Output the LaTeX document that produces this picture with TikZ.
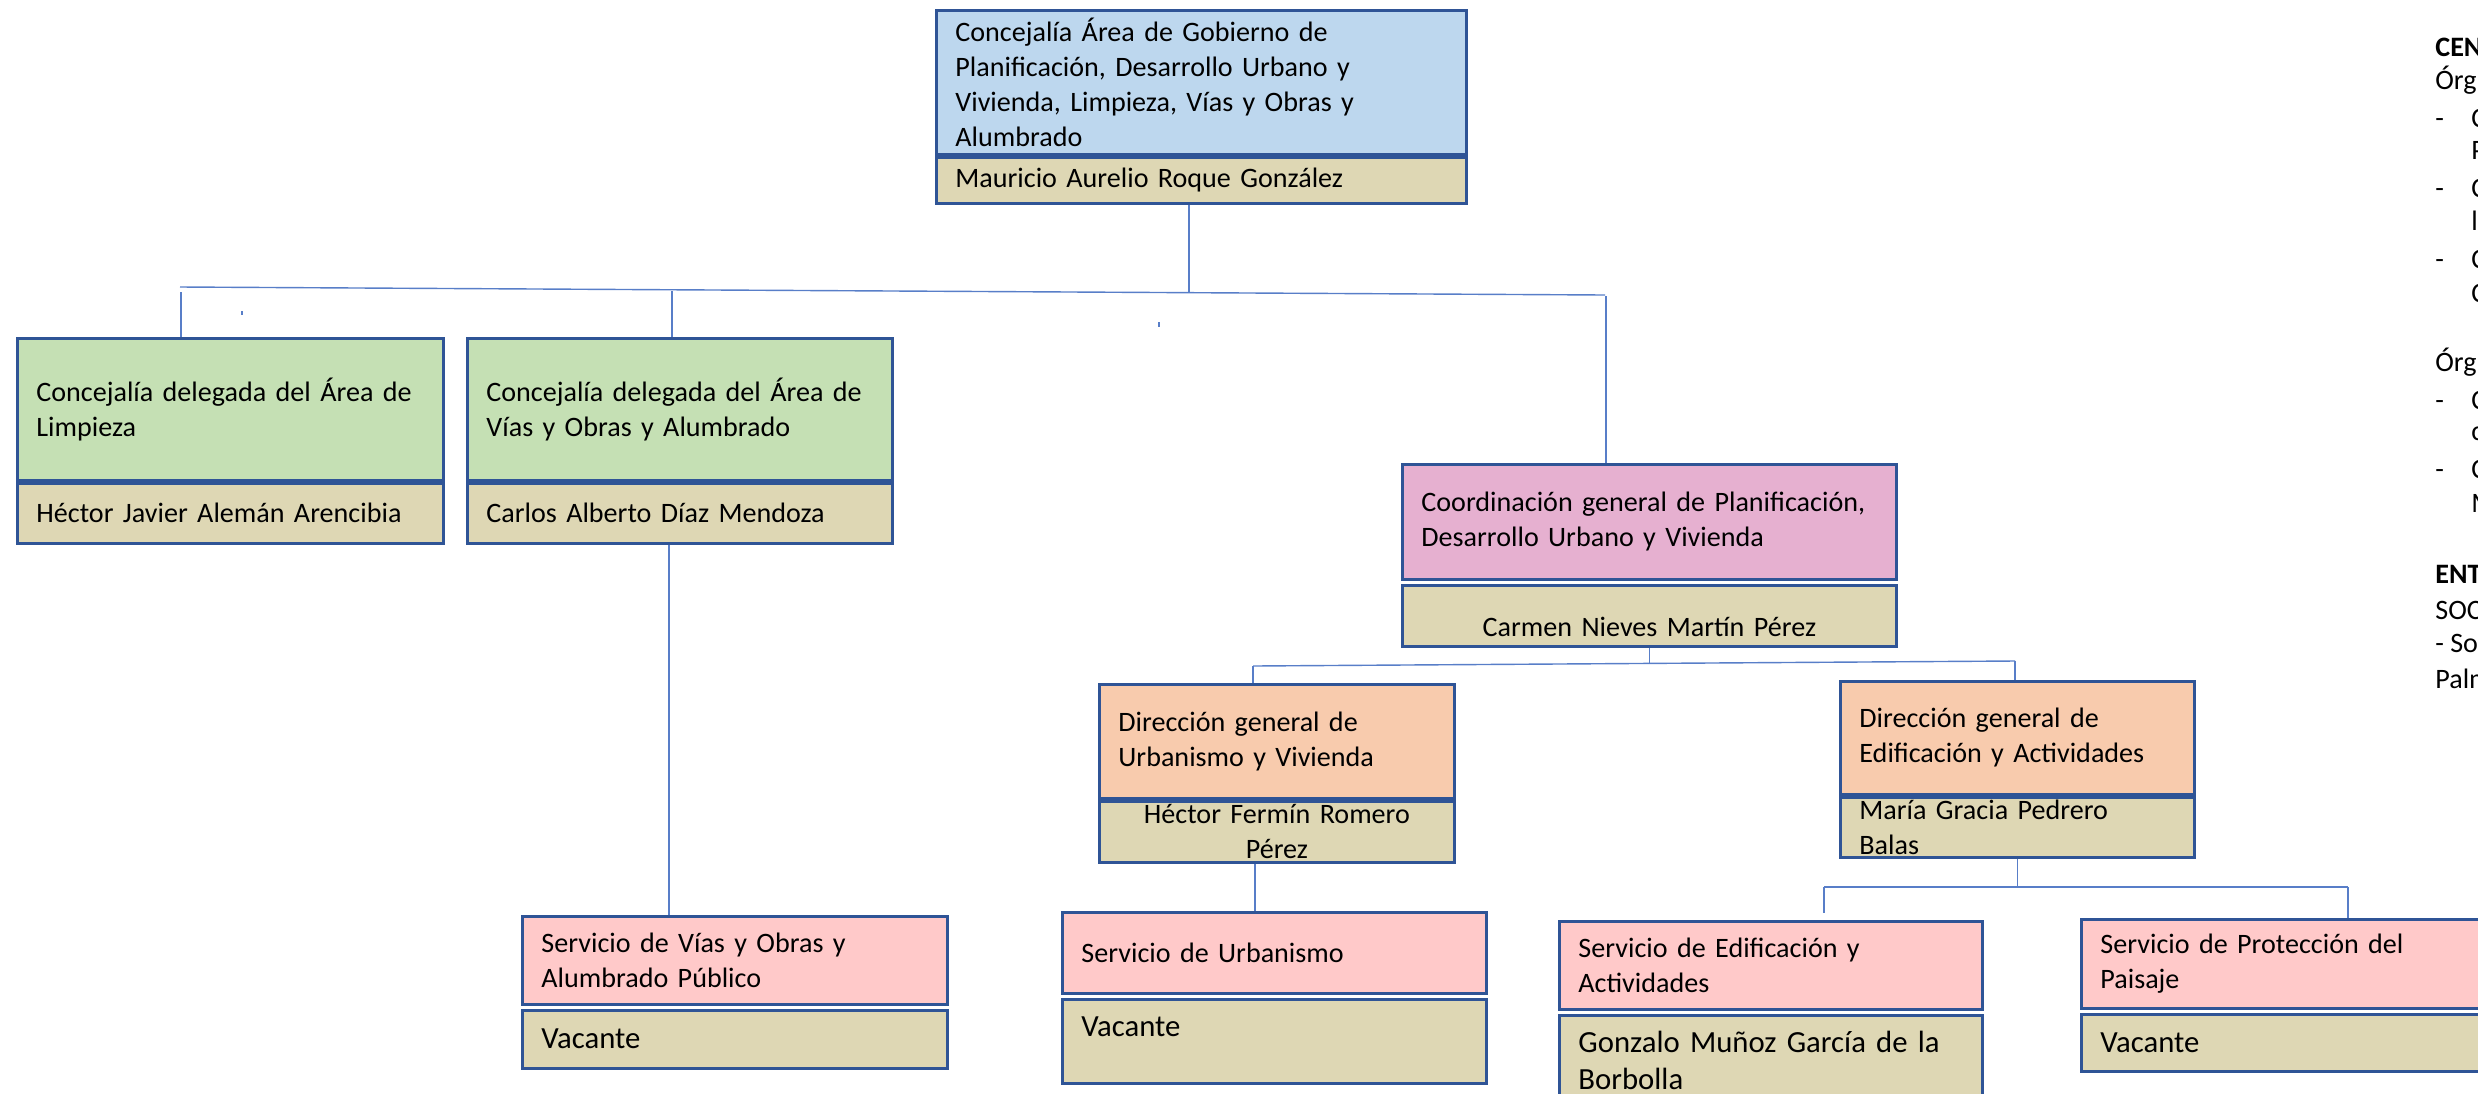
\documentclass[tikz,border=0pt]{standalone}
\usepackage{fontspec}
\setmainfont{Carlito}
\usepackage{tikz}
\usetikzlibrary{positioning}

\definecolor{boxblue}{RGB}{47,84,150}
\definecolor{linkblue}{RGB}{88,126,200}
\definecolor{topblue}{RGB}{189,215,238}
\definecolor{tanfill}{RGB}{222,215,180}
\definecolor{greenfill}{RGB}{197,224,180}
\definecolor{coordfill}{RGB}{230,176,208}
\definecolor{dirfill}{RGB}{248,203,173}
\definecolor{servfill}{RGB}{255,201,201}

\begin{document}
\begin{tikzpicture}[x=0.02cm, y=-0.02cm]
	% Define styles
	\tikzset{
		box/.style={draw=boxblue, line width=1.6pt, anchor=north west, inner xsep=0.38cm, inner ysep=0pt, align=left, font=\fontsize{16}{19.9}\selectfont},
		who/.style={box, fill=tanfill},
		big/.style={font=\fontsize{17.5}{21.5}\selectfont},
		side/.style={anchor=base west, inner sep=0pt, font=\fontsize{16}{19.9}\selectfont},
		line/.style={draw=linkblue, line width=0.8pt}
	}
	
	\useasboundingbox (0,0) rectangle (2478,1093);
	\clip (0,0) rectangle (2478,1093);
	
	% Nodes
	\node[box, fill=topblue, text width=9.84cm, minimum height=2.88cm] (gob) at (935,9) {Concejalía Área de Gobierno de\\Planificación, Desarrollo Urbano y\\Vivienda, Limpieza, Vías y Obras y\\Alumbrado};
	\node[who, below=0pt of gob, text width=9.84cm, minimum height=0.92cm] (gobn) {Mauricio Aurelio Roque González};
	
	\node[box, fill=greenfill, text width=7.76cm, minimum height=2.84cm] (limp) at (16,337) {Concejalía delegada del Área de\\Limpieza};
	\node[who, below=0pt of limp, text width=7.76cm, minimum height=1.2cm] (limpn) {Héctor Javier Alemán Arencibia};
	\node[box, fill=greenfill, text width=7.74cm, minimum height=2.84cm] (vias) at (466,337) {Concejalía delegada del Área de\\Vías y Obras y Alumbrado};
	\node[who, below=0pt of vias, text width=7.74cm, minimum height=1.2cm] (viasn) {Carlos Alberto Díaz Mendoza};
	
	\node[box, fill=coordfill, text width=9.12cm, minimum height=2.3cm] (coord) at (1401,463) {Coordinación general de Planificación,\\Desarrollo Urbano y Vivienda};
	\node[who, below=0.06cm of coord, text width=9.12cm, align=center, text height=1.02cm, text depth=0.2cm] (coordn) {Carmen Nieves Martín Pérez};
	
	\node[box, fill=dirfill, text width=6.34cm, minimum height=2.28cm] (dg1) at (1098,683) {Dirección general de\\Urbanismo y Vivienda};
	\node[who, below=0pt of dg1, text width=6.34cm, minimum height=1.22cm, align=center] (dg1n) {Héctor Fermín Romero\\Pérez};
	\node[box, fill=dirfill, text width=6.32cm, minimum height=2.26cm] (dg2) at (1839,680) {Dirección general de\\Edificación y Actividades};
	\node[who, below=0pt of dg2, text width=6.32cm, text height=0.44cm, text depth=0.76cm] (dg2n) {María Gracia Pedrero\\Balas};
	
	\node[box, fill=servfill, text width=7.74cm, minimum height=1.76cm] (s1) at (521,915) {Servicio de Vías y Obras y\\Alumbrado Público};
	\node[who, big, below=0.06cm of s1, text width=7.74cm, minimum height=1.16cm] (s1n) {Vacante};
	\node[box, fill=servfill, text width=7.72cm, minimum height=1.62cm] (s2) at (1061,911) {Servicio de Urbanismo};
	\node[who, big, below=0.06cm of s2, text width=7.72cm, text height=0.74cm, text depth=0.94cm] (s2n) {Vacante};
	\node[box, fill=servfill, text width=7.70cm, minimum height=1.76cm] (s3) at (1558,920) {Servicio de Edificación y\\Actividades};
	\node[who, big, below=0.06cm of s3, text width=7.70cm, text height=0.74cm, text depth=1.3cm] (s3n) {Gonzalo Muñoz García de la\\Borbolla};
	\node[box, fill=servfill, text width=8.04cm, minimum height=1.78cm] (s4) at (2080,918) {Servicio de Protección del\\Paisaje};
	\node[who, big, below=0.06cm of s4, text width=8.04cm, minimum height=1.14cm] (s4n) {Vacante};
	
	% Side notes (cut at the page edge)
	\foreach \xx/\yy/\tx [count=\i] in {2435/56/{\textbf{CEN}}, 2435/89/Órg, 2435/127/-, 2471/127/C, 2471/159/P, 2435/197/-, 2471/197/C, 2471/230/l, 2435/268/-, 2471/268/C, 2471/302/C, 2435/371/Órg, 2435/409/-, 2471/409/C, 2471/440/c, 2435/478/-, 2471/478/C, 2471/512/M, 2435/583/{\textbf{ENT}}, 2435/619/SOC, 2435/652/{- So}, 2435/688/Palm}
		\node[side] (side\i) at (\xx,\yy) {\tx};
	
	% Lines
	\coordinate (busL) at (180,287);
	\coordinate (busR) at (1605,295);
	\coordinate (busM) at (1189,292.7);
	\coordinate (dropL) at (181,292);
	\coordinate (dropV) at (672,291);
	\coordinate (dropC) at (1606,296);
	\path [line] (gobn.south -| busM) -- (busM);
	\path [line] (busL) -- (busR);
	\path [line] (dropL) -- (dropL |- limp.north);
	\path [line] (dropV) -- (dropV |- vias.north);
	\path [line] (dropC) -- (dropC |- coord.north);
	
	\coordinate (tickA) at (242,311);
	\coordinate (tickB) at (1159,322);
	\path [line] (tickA) -- ++(0,4);
	\path [line] (tickB) -- ++(0,5);
	
	\coordinate (downV) at (669,539);
	\path [line] (downV |- viasn.south) -- (downV |- s1.north);
	
	\coordinate (cM) at (1648,664);
	\coordinate (cL) at (1253,666);
	\coordinate (cR) at (2015,661);
	\path [line] (coordn.south) -- (coordn.south |- cM);
	\path [line] (cL) -- (cR);
	\path [line] (cL) -- (cL |- dg1.north);
	\path [line] (cR) -- (cR |- dg2.north);
	
	\coordinate (uA) at (1255,858);
	\path [line] (uA |- dg1n.south) -- (uA |- s2.north);
	
	\coordinate (eL) at (1824,887);
	\coordinate (eR) at (2348,887);
	\coordinate (eEnd) at (1824,913);
	\path [line] (dg2n.south) -- (dg2n.south |- eL);
	\path [line] (eL) -- (eR);
	\path [line] (eL) -- (eEnd);
	\path [line] (eR) -- (eR |- s4.north);
\end{tikzpicture}
\end{document}
